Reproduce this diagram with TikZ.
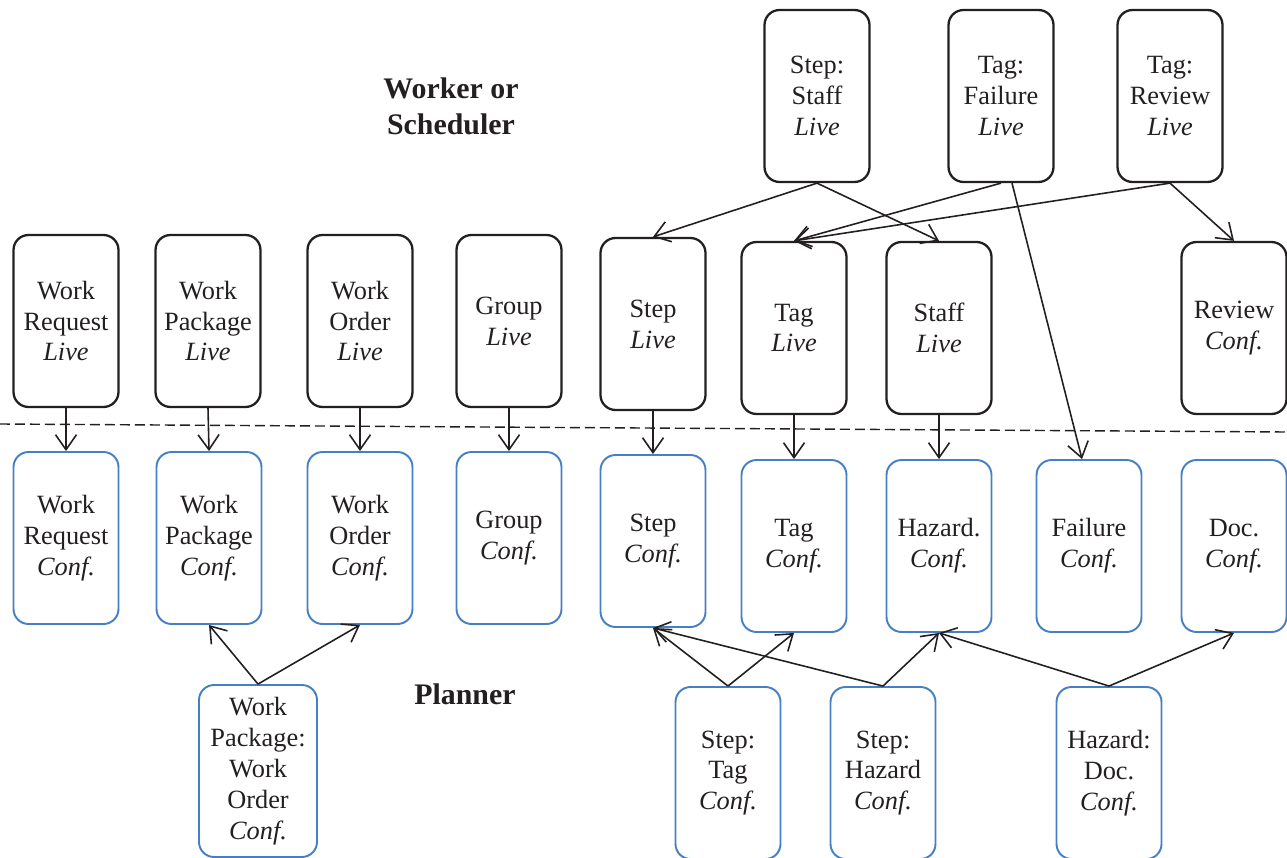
\documentclass[tikz,border=0pt]{standalone}
\usepackage{fontspec}
\setmainfont{Liberation Serif}
\usetikzlibrary{arrows.meta}
\definecolor{ink}{RGB}{35,31,32}
\definecolor{confblue}{RGB}{70,128,196}

\begin{document}
\begin{tikzpicture}
[x=0.02cm,y=-0.02cm,
  lineDecorate/.style={-{Straight Barb[length=0.3cm,width=0.42cm]},line width=0.9pt,draw=ink},%
  nodeDecorate/.style={shape=rectangle,rounded corners=0.3cm,draw=ink,line width=1.3pt,
    minimum width=2.1cm,minimum height=3.44cm,inner sep=1pt,align=center,text=ink,
    font=\fontsize{15}{17.6}\selectfont},%
  confDecorate/.style={nodeDecorate,draw=confblue,line width=1.1pt},%
  roleDecorate/.style={align=center,text=ink,font=\fontsize{17}{20.4}\selectfont\bfseries}]
\useasboundingbox (0,0) rectangle (1287,858);
%% live nodes
\foreach \nodename/\x/\y/\txt in {
  wrl/66/321/{Work\\Request\\\textit{Live}}, wpl/208/321/{Work\\Package\\\textit{Live}},
  wol/360/321/{Work\\Order\\\textit{Live}}, grl/509/321/{Group\\\textit{Live}},
  stl/653/324/{Step\\\textit{Live}}, tgl/794/328/{Tag\\\textit{Live}},
  sfl/939/328/{Staff\\\textit{Live}}, rvc/1234/328/{Review\\\textit{Conf.}},
  ssl/817/96/{Step:\\Staff\\\textit{Live}}, tfl/1001/96/{Tag:\\Failure\\\textit{Live}},
  trl/1170/96/{Tag:\\Review\\\textit{Live}}}
{
  \node (\nodename) at (\x,\y) [nodeDecorate] {\txt};
}
%% conf nodes
\foreach \nodename/\x/\y/\txt in {
  wrc/66/538/{Work\\Request\\\textit{Conf.}}, wpc/209/538/{Work\\Package\\\textit{Conf.}},
  woc/360/538/{Work\\Order\\\textit{Conf.}}, grc/509/538/{Group\\\textit{Conf.}},
  stc/653/541/{Step\\\textit{Conf.}}, tgc/794/546/{Tag\\\textit{Conf.}},
  hzc/939/546/{Hazard.\\\textit{Conf.}}, flc/1089/546/{Failure\\\textit{Conf.}},
  dcc/1234/546/{Doc.\\\textit{Conf.}},
  stg/728/773/{Step:\\Tag\\\textit{Conf.}}, shz/883/773/{Step:\\Hazard\\\textit{Conf.}},
  hdc/1109/773/{Hazard:\\Doc.\\\textit{Conf.}}}
{
  \node (\nodename) at (\x,\y) [confDecorate] {\txt};
}
\node (pwo) at (258,771) [confDecorate,minimum width=2.36cm]
  {Work\\Package:\\Work\\Order\\\textit{Conf.}};
%% roles
\node (worker) at (451,106) [roleDecorate] {Worker or\\Scheduler};
\node (planner) at (465,694) [roleDecorate] {Planner};
%% boundary
\draw[ink,line width=0.8pt,dash pattern=on 0.2cm off 0.1cm] (0,424) -- (1287,432);
%% edges
\path
\foreach \startnode/\endnode in {
  wrl.south/wrc.north, wpl.south/wpc.north, wol.south/woc.north, grl.south/grc.north,
  stl.south/stc.north, tgl.south/tgc.north, sfl.south/hzc.north,
  ssl.south/stl.north, ssl.south/sfl.north, tfl.south/tgl.north,
  trl.south/tgl.north, trl.south/rvc.north,
  pwo.north/wpc.south, pwo.north/woc.south,
  stg.north/stc.south, stg.north/tgc.south, shz.north/stc.south, shz.north/hzc.south,
  hdc.north/hzc.south, hdc.north/dcc.south}
{
  (\startnode) edge[lineDecorate] (\endnode)
};
\draw[lineDecorate] ([xshift=0.22cm]tfl.south) -- ([xshift=-0.14cm]flc.north);
\end{tikzpicture}
\end{document}
